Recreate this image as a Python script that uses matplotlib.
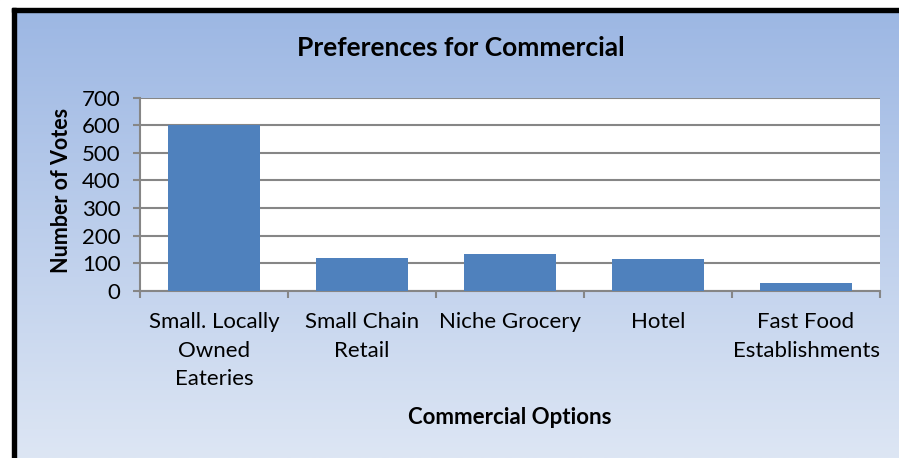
import numpy as np
import matplotlib
matplotlib.use("Agg")
import matplotlib.pyplot as plt
from matplotlib.colors import LinearSegmentedColormap
from matplotlib.patches import Rectangle

categories = ["Small. Locally\nOwned\nEateries", "Small Chain\nRetail", "Niche Grocery",
              "Hotel", "Fast Food\nEstablishments"]
votes = [600, 120, 133, 115, 30]
yticks = [0, 100, 200, 300, 400, 500, 600, 700]
title = "Preferences for Commercial"
xlabel = "Commercial Options"
ylabel = "Number of Votes"

plt.rcParams['font.family'] = ['Lato', 'DejaVu Sans']

W, H = 899, 458
fig = plt.figure(figsize=(W / 100, H / 100), dpi=100)
fig.patch.set_facecolor("white")

# gradient background
bg = fig.add_axes([0, 0, 1, 1], zorder=0)
cmap = LinearSegmentedColormap.from_list("g", ["#9bb6e3", "#dde6f4"])
grad = np.linspace(0, 1, 256).reshape(-1, 1)
bg.imshow(grad, aspect="auto", cmap=cmap, extent=[0, 1, 0, 1], origin="upper")
bg.set_xlim(0, 1); bg.set_ylim(0, 1)
bg.axis("off")
bg.add_patch(Rectangle((0, 0), 12 / W, 1, color="white", transform=bg.transAxes, zorder=2))
bg.add_patch(Rectangle((0, 1 - 8 / H), 1, 8 / H, color="white", transform=bg.transAxes, zorder=2))
bg.add_patch(Rectangle((12 / W, 0), 4 / W, 1 - 8 / H, color="black", transform=bg.transAxes, zorder=3))
bg.add_patch(Rectangle((12 / W, 1 - 12 / H), 1, 4 / H, color="black", transform=bg.transAxes, zorder=3))

# plot area
left, right, top, bottom = 140, 880, 97.5, 291
ax = fig.add_axes([left / W, 1 - bottom / H, (right - left) / W, (bottom - top) / H], zorder=1)
ax.set_facecolor("white")
x = np.arange(len(categories))
ax.bar(x, votes, width=0.62, color="#4f81bd", zorder=3)
ax.set_xlim(-0.5, len(categories) - 0.5)
ax.set_ylim(0, 700)
ax.set_yticks(yticks)
ax.set_yticklabels([str(v) for v in yticks], fontsize=16)
ax.yaxis.grid(True, color="#868686", linewidth=1.5, zorder=1)
ax.set_axisbelow(True)
for s in ["top", "right"]:
    ax.spines[s].set_visible(False)
for s in ["left", "bottom"]:
    ax.spines[s].set_color("#868686")
    ax.spines[s].set_linewidth(1.5)
ax.tick_params(axis="y", length=5, width=1.5, color="#868686", pad=9)
ax.set_xticks(np.arange(-0.5, len(categories)), minor=False)
ax.set_xticklabels([])
ax.tick_params(axis="x", which="major", length=5, width=1.5, color="#868686")
ax.set_xticks(x, minor=True)
ax.set_xticklabels(categories, minor=True, fontsize=16, linespacing=1.55, va="top")
ax.tick_params(axis="x", which="minor", length=0, pad=15)

fig.text(461 / W, 1 - 48 / H, title, fontsize=19, fontweight="bold", ha="center", va="center")
fig.text(510 / W, 1 - 417 / H, xlabel, fontsize=16, fontweight="bold", ha="center", va="center")
fig.text(61 / W, 1 - 190 / H, ylabel, fontsize=15.5, fontweight="bold", ha="center", va="center", rotation=90)

fig.savefig("out.png", dpi=100)
